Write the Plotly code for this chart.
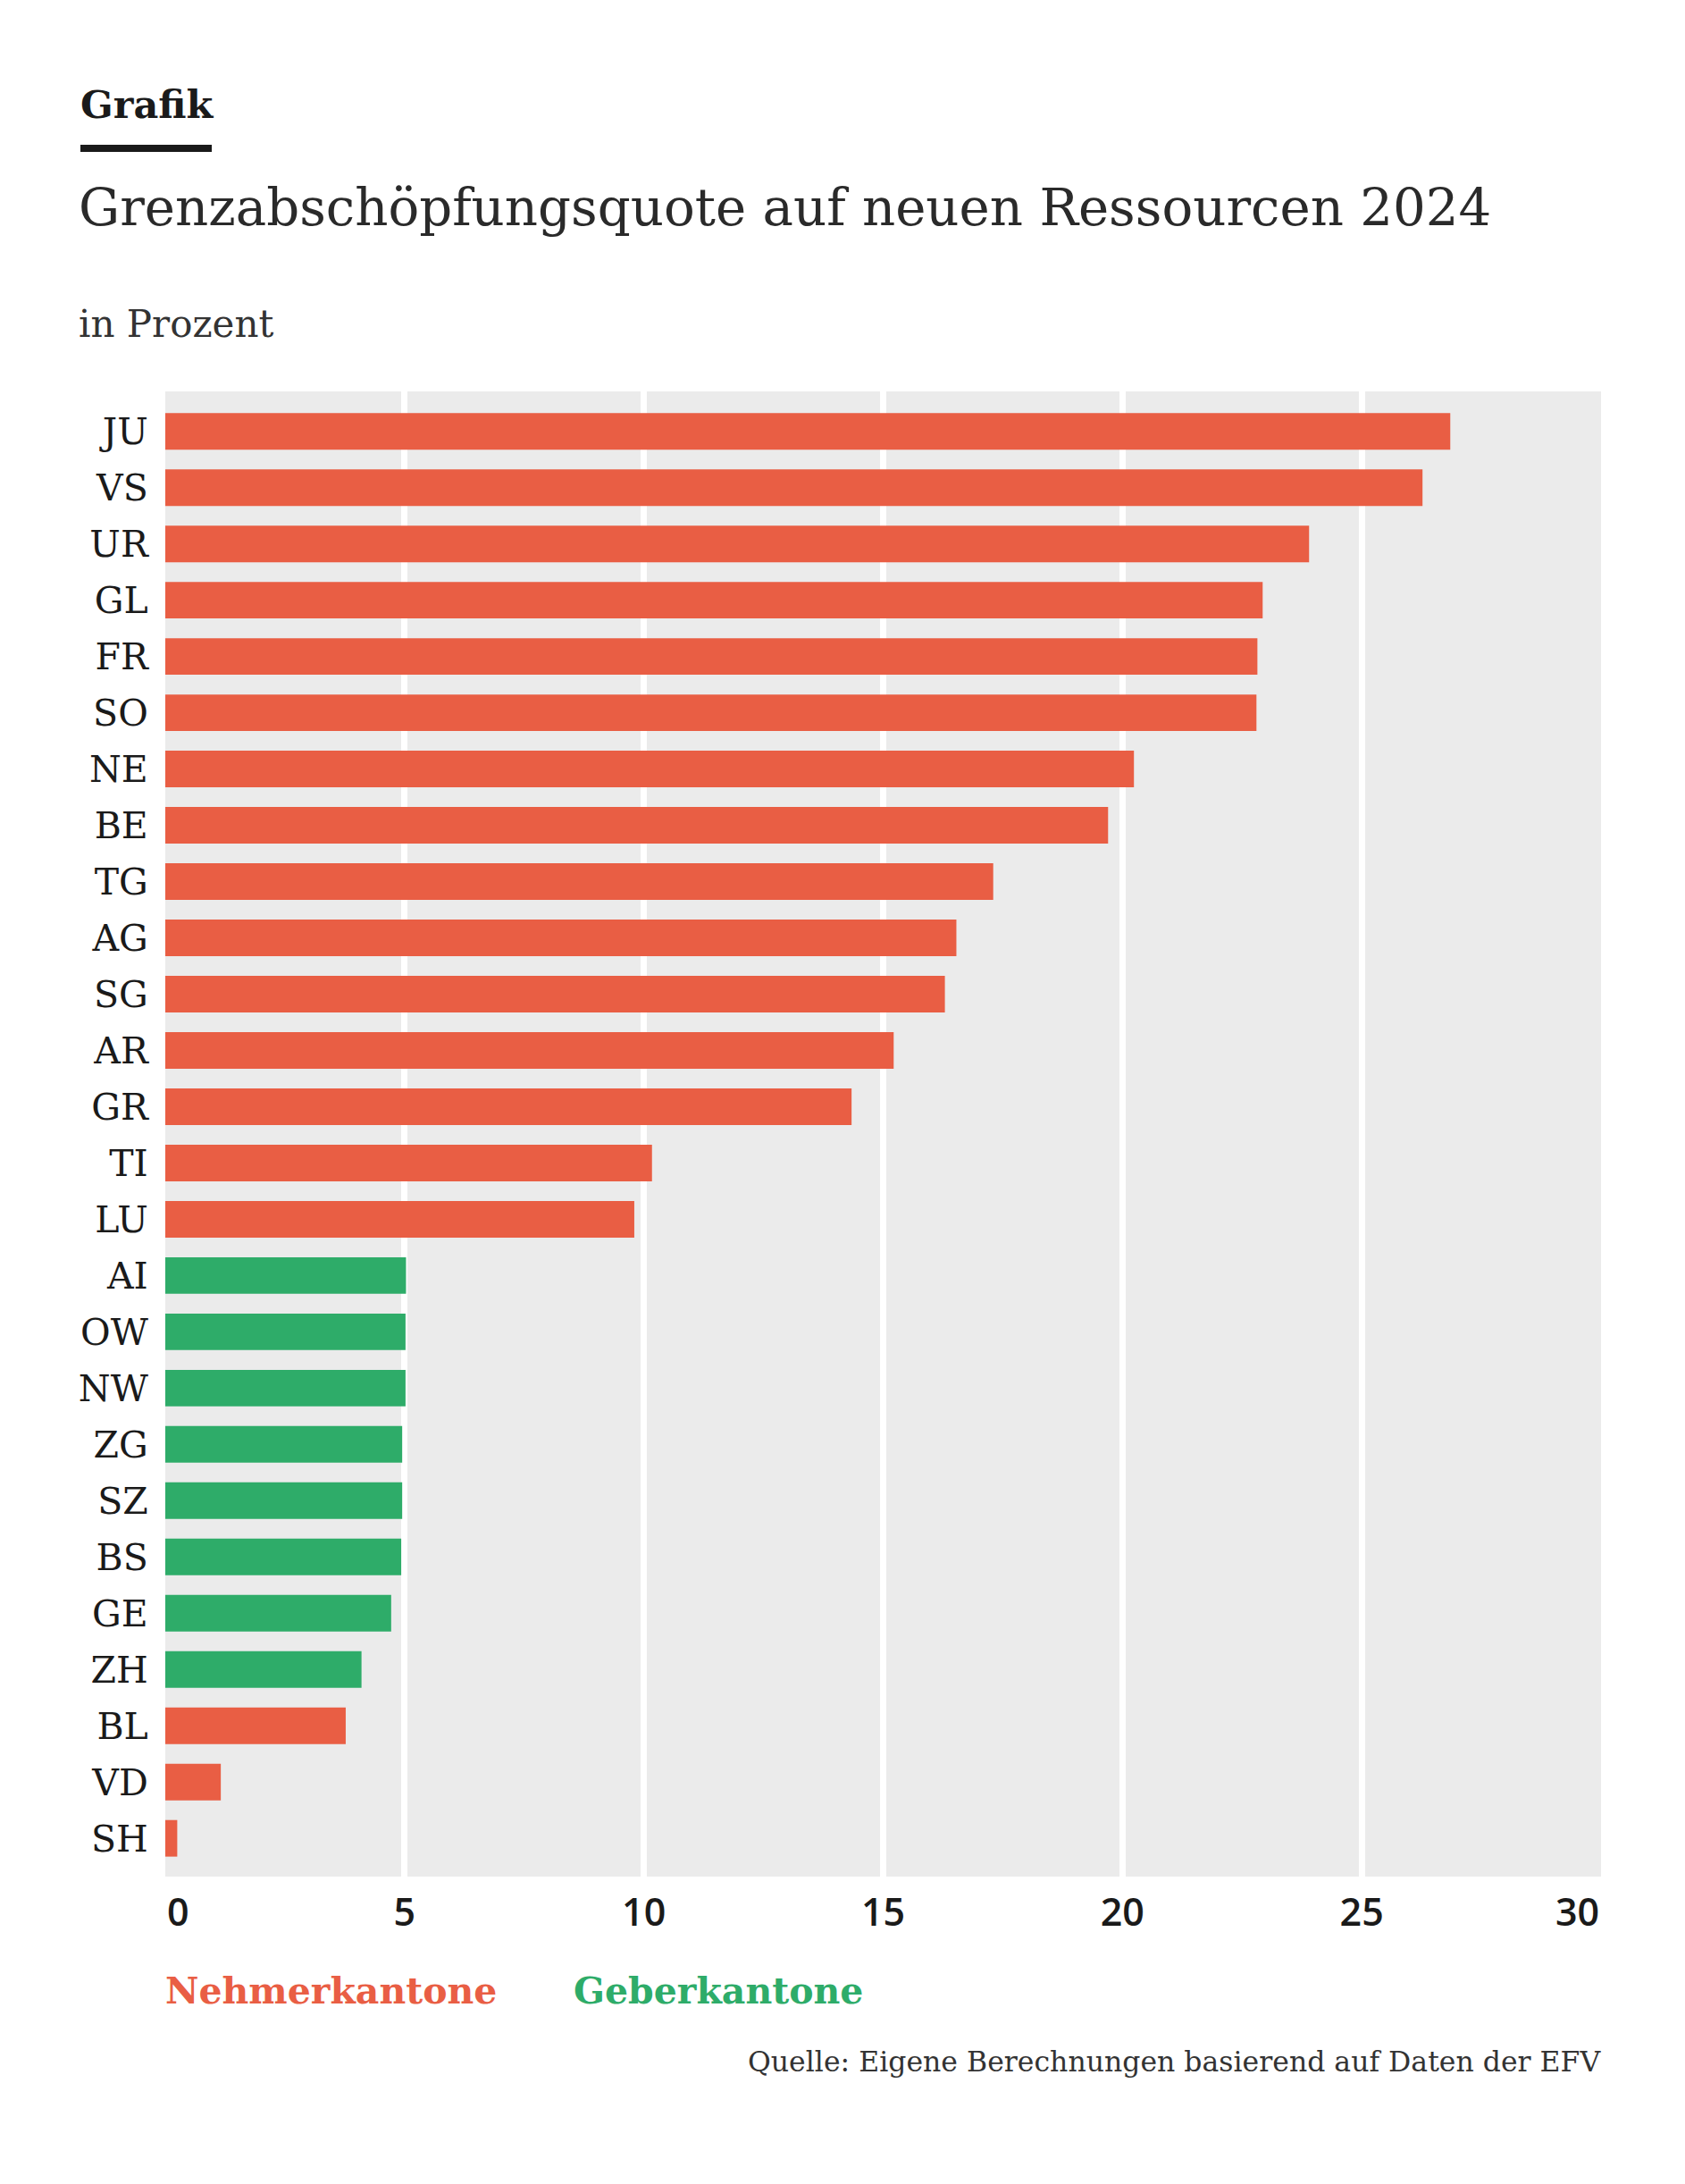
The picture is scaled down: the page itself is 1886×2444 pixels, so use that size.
import plotly.graph_objects as go

# Grenzabschoepfungsquote 2024 per canton, in percent
cantons = ['JU', 'VS', 'UR', 'GL', 'FR', 'SO', 'NE', 'BE', 'TG', 'AG', 'SG', 'AR', 'GR',
           'TI', 'LU', 'AI', 'OW', 'NW', 'ZG', 'SZ', 'BS', 'GE', 'ZH', 'BL', 'VD', 'SH']
values = [26.85, 26.27, 23.90, 22.93, 22.82, 22.80, 20.24, 19.70, 17.30, 16.53, 16.29, 15.22, 14.34,
          10.17, 9.80, 5.03, 5.02, 5.02, 4.95, 4.95, 4.93, 4.72, 4.10, 3.77, 1.16, 0.25]
groups = ['N', 'N', 'N', 'N', 'N', 'N', 'N', 'N', 'N', 'N', 'N', 'N', 'N',
          'N', 'N', 'G', 'G', 'G', 'G', 'G', 'G', 'G', 'G', 'N', 'N', 'N']
x_ticks = [0, 5, 10, 15, 20, 25, 30]

RED = '#E95E44'
GREEN = '#2EAC69'
colors = [RED if g == 'N' else GREEN for g in groups]

# page body has an 8px margin, so the figure is a bit smaller than the window
OFF = 8
W, H = 1878, 2436
L, R, T, B = 177, 94, 430, 344
PW, PH = W - L - R, H - T - B


def px(x):
    return (x - OFF - L) / PW


def py(y):
    return (H - B - (y - OFF)) / PH


fig = go.Figure()
fig.add_trace(go.Bar(x=values, y=cantons, orientation='h', marker_color=colors,
                     marker_line_width=0, hoverinfo='x+y'))

serif = 'DejaVu Serif'
sans = 'Open Sans'
tickfont_x = dict(family=sans, size=43, color='#1a1a1a', weight=600)

fig.update_layout(
    width=W, height=H,
    margin=dict(l=L, r=R, t=T, b=B),
    paper_bgcolor='white', plot_bgcolor='#EBEBEB',
    bargap=0.35, showlegend=False,
    xaxis=dict(range=[0, 30], tickvals=x_ticks[1:-1], ticktext=[str(v) for v in x_ticks[1:-1]],
               showgrid=True, gridcolor='white', gridwidth=7, zeroline=False,
               ticks='outside', ticklen=2, tickcolor='rgba(0,0,0,0)',
               tickfont=tickfont_x, fixedrange=True),
    yaxis=dict(range=[25.68, -0.71], showgrid=False, zeroline=False,
               ticks='outside', ticklen=10, tickcolor='rgba(0,0,0,0)',
               tickfont=dict(family=serif, size=41, color='#1a1a1a'), fixedrange=True),
)

# end labels of the x axis sit flush with the plot edges
fig.add_annotation(x=x_ticks[0], y=py(2138), xref='x', yref='paper', text=str(x_ticks[0]),
                   showarrow=False, xanchor='left', yanchor='middle', font=tickfont_x)
fig.add_annotation(x=x_ticks[-1], y=py(2138), xref='x', yref='paper', text=str(x_ticks[-1]),
                   showarrow=False, xanchor='right', yanchor='middle', font=tickfont_x)

# header
fig.add_annotation(x=px(88), y=py(117), xref='paper', yref='paper', text='<b>Grafik</b>',
                   showarrow=False, xanchor='left', yanchor='middle',
                   font=dict(family=serif, size=43, color='#1a1a1a'))
fig.add_shape(type='rect', xref='paper', yref='paper', x0=px(90), x1=px(237),
              y0=py(170), y1=py(162), fillcolor='#1a1a1a', line_width=0)
fig.add_annotation(x=px(86), y=py(232), xref='paper', yref='paper',
                   text='Grenzabschöpfungsquote auf neuen Ressourcen 2024',
                   showarrow=False, xanchor='left', yanchor='middle',
                   font=dict(family=serif, size=57.8, color='#2a2a2a'))
fig.add_annotation(x=px(86), y=py(362), xref='paper', yref='paper', text='in Prozent',
                   showarrow=False, xanchor='left', yanchor='middle',
                   font=dict(family=serif, size=42, color='#333333'))

# legend as coloured words
fig.add_annotation(x=px(183), y=py(2228), xref='paper', yref='paper', text='<b>Nehmerkantone</b>',
                   showarrow=False, xanchor='left', yanchor='middle',
                   font=dict(family=serif, size=41, color=RED))
fig.add_annotation(x=px(640), y=py(2228), xref='paper', yref='paper', text='<b>Geberkantone</b>',
                   showarrow=False, xanchor='left', yanchor='middle',
                   font=dict(family=serif, size=41, color=GREEN))

fig.add_annotation(x=px(1794), y=py(2307), xref='paper', yref='paper',
                   text='Quelle: Eigene Berechnungen basierend auf Daten der EFV',
                   showarrow=False, xanchor='right', yanchor='middle',
                   font=dict(family=serif, size=31.5, color='#333333'))

fig.write_html('out.html')
